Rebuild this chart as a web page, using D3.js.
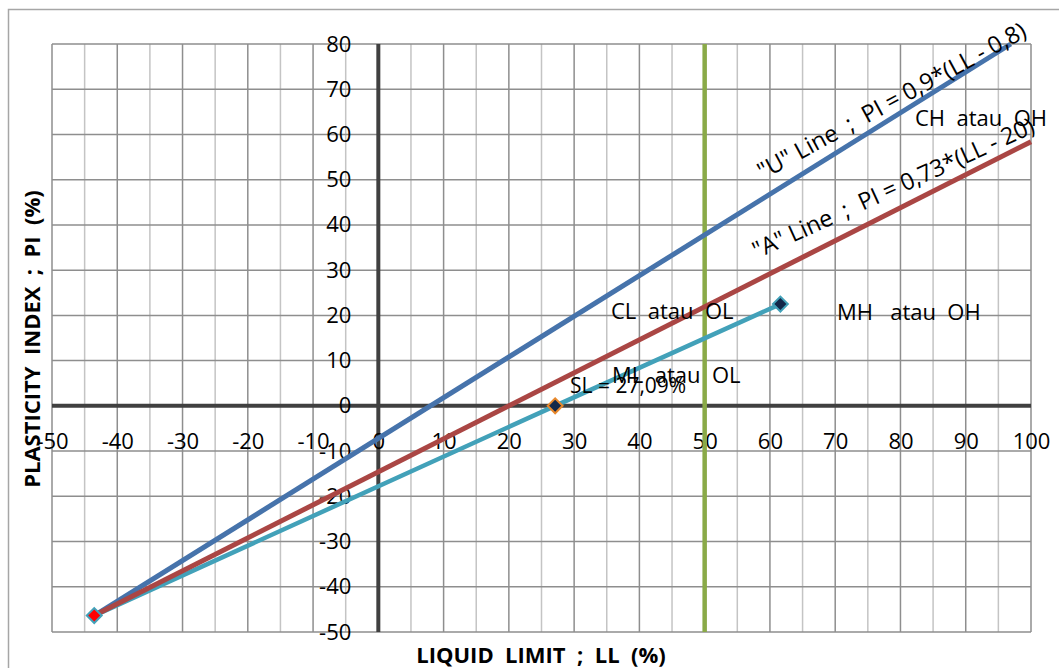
<!DOCTYPE html>
<html>
<head>
<meta charset="utf-8">
<script src="https://cdn.jsdelivr.net/npm/d3@7"></script>
<style>
  html, body { margin: 0; padding: 0; background: #fff; }
  svg { display: block; font-family: "Open Sans", sans-serif; }
</style>
</head>
<body>
<svg id="chart" width="1059" height="668"></svg>
<script>
// ---- data ----
const xTicks = [-50, -40, -30, -20, -10, 0, 10, 20, 30, 40, 50, 60, 70, 80, 90, 100];
const yTicks = [-50, -40, -30, -20, -10, 0, 10, 20, 30, 40, 50, 60, 70, 80];
const uLineLL = [-43.53, 96.9];
const uLinePI = [-46.37, 80];
const aLineLL = [-43.53, 100];
const aLinePI = [-46.37, 58.4];
const soilLL = [-43.53, 27.09, 61.6];
const soilPI = [-46.37, 0, 22.5];
const llLimitLL = [50, 50];
const llLimitPI = [-50, 80];
const zoneLabels = ["CH  atau  OH", "CL  atau  OL", "MH   atau  OH", "ML  atau  OL", "SL = 27,09%"];
const lineLabels = ["\"U\" Line  ;  PI = 0,9*(LL - 0,8)", "\"A\" Line  ;  PI = 0,73*(LL - 20)"];

// ---- layout ----
const svg = d3.select("#chart");
const x = d3.scaleLinear().domain([-50, 100]).range([52, 1031]);
const y = d3.scaleLinear().domain([-50, 80]).range([632, 44]);

// outer frame
svg.append("rect").attr("x", 8.5).attr("y", 9.5).attr("width", 1100).attr("height", 700)
  .attr("fill", "none").attr("stroke", "#a6a6a6").attr("stroke-width", 1.5);

// grid
const g = svg.append("g");
const vGrid = d3.range(-50, 100.1, 5);
g.selectAll(".vg").data(vGrid).join("line")
  .attr("x1", d => x(d)).attr("x2", d => x(d))
  .attr("y1", y(80)).attr("y2", y(-50))
  .attr("stroke", d => (d % 10 === 0 ? "#8e8e8e" : "#c4c4c4"))
  .attr("stroke-width", 1.5);
g.selectAll(".hg").data(yTicks).join("line")
  .attr("x1", x(-50)).attr("x2", x(100))
  .attr("y1", d => y(d)).attr("y2", d => y(d))
  .attr("stroke", "#8e8e8e").attr("stroke-width", 1.5);

// zero axes
svg.append("line").attr("x1", x(-50)).attr("x2", x(100)).attr("y1", y(0)).attr("y2", y(0))
  .attr("stroke", "#404040").attr("stroke-width", 4);
svg.append("line").attr("x1", x(0)).attr("x2", x(0)).attr("y1", y(80)).attr("y2", y(-50))
  .attr("stroke", "#404040").attr("stroke-width", 4);

// tick labels via axes
const xAxis = d3.axisBottom(x).tickValues(xTicks).tickSize(0).tickPadding(28).tickFormat(d3.format("d"));
const yAxis = d3.axisLeft(y).tickValues(yTicks).tickSize(0).tickPadding(27).tickFormat(d3.format("d"));
const xa = svg.append("g").attr("transform", `translate(0,${y(0)})`).call(xAxis);
const ya = svg.append("g").attr("transform", `translate(${x(0)},0)`).call(yAxis);
[xa, ya].forEach(a => {
  a.select(".domain").remove();
  a.selectAll("text").attr("font-family", "Open Sans, sans-serif").attr("font-size", 22).attr("fill", "#000")
    .text(d => (d < 0 ? "-" + Math.abs(d) : d));
});

// lines
const line = d3.line().x(d => x(d[0])).y(d => y(d[1]));
const zip = (a, b) => a.map((v, i) => [v, b[i]]);

svg.append("path").datum(zip(llLimitLL, llLimitPI)).attr("d", line)
  .attr("fill", "none").attr("stroke", "#8aaa48").attr("stroke-width", 4.5);
svg.append("path").datum(zip(uLineLL, uLinePI)).attr("d", line)
  .attr("fill", "none").attr("stroke", "#4673ab").attr("stroke-width", 5);
svg.append("path").datum(zip(soilLL, soilPI)).attr("d", line)
  .attr("fill", "none").attr("stroke", "#42a1b9").attr("stroke-width", 4.5);
svg.append("path").datum(zip(aLineLL, aLinePI)).attr("d", line)
  .attr("fill", "none").attr("stroke", "#aa4644").attr("stroke-width", 5);

// markers
const markerFill = ["#ff0000", "#13284a", "#13284a"];
const markerStroke = ["#42a1b9", "#e8882c", "#42a1b9"];
const sym = d3.symbol(d3.symbolSquare, 110);
svg.selectAll(".mk").data(zip(soilLL, soilPI)).join("path")
  .attr("d", sym)
  .attr("transform", d => `translate(${x(d[0])},${y(d[1])}) rotate(45)`)
  .attr("fill", (d, i) => markerFill[i])
  .attr("stroke", (d, i) => markerStroke[i])
  .attr("stroke-width", 2);

// text labels
const txt = (s, px, py, opt = {}) => svg.append("text").attr("x", px).attr("y", py)
  .attr("font-size", opt.size || 22).attr("font-weight", opt.weight || "normal")
  .attr("text-anchor", opt.anchor || "start")
  .attr("transform", opt.rotate ? `rotate(${opt.rotate},${px},${py})` : null)
  .attr("fill", "#000").style("white-space", "pre").text(s);

txt(lineLabels[0], 763, 180, { rotate: -28.5, size: 23.5 });
txt(lineLabels[1], 757, 259, { rotate: -24.5, size: 23.5 });
txt(zoneLabels[0], 915, 126);
txt(zoneLabels[1], 611, 319);
txt(zoneLabels[2], 837, 320);
txt(zoneLabels[3], 612, 383);
txt(zoneLabels[4], 570, 393, { size: 21 });

// axis titles
txt("LIQUID  LIMIT  ;  LL  (%)", 541, 663, { weight: "bold", size: 22, anchor: "middle" });
txt("PLASTICITY  INDEX  ;  PI  (%)", 40, 339, { weight: "bold", size: 22, anchor: "middle", rotate: -90 });
</script>
</body>
</html>
